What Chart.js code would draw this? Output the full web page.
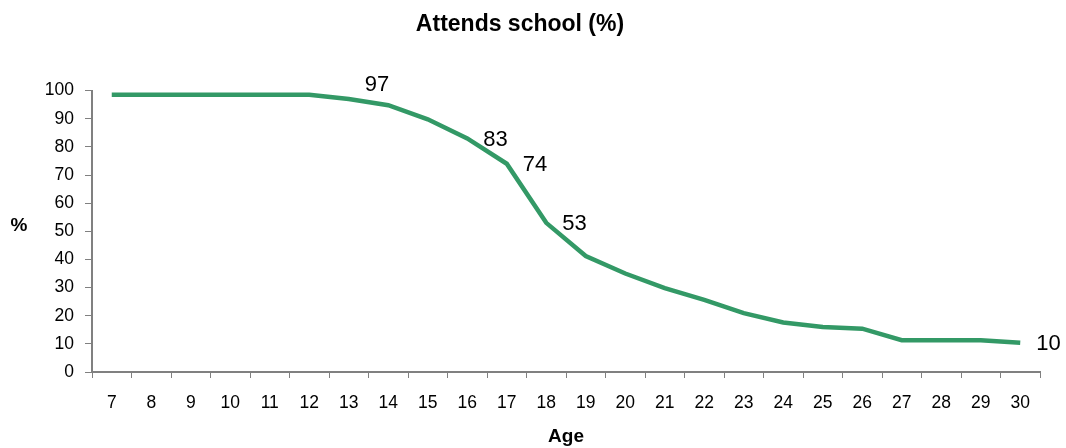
<!DOCTYPE html>
<html>
<head>
<meta charset="utf-8">
<script src="https://cdn.jsdelivr.net/npm/chart.js@4.4.1/dist/chart.umd.min.js"></script>
<style>
  html, body { margin: 0; padding: 0; background: #fff; }
  #wrap { width: 1066px; height: 448px; }
</style>
</head>
<body>
<div id="wrap"><canvas id="schoolChart" width="1066" height="448"></canvas></div>
<script>
const ages = ["7", "8", "9", "10", "11", "12", "13", "14", "15", "16", "17", "18",
  "19", "20", "21", "22", "23", "24", "25", "26", "27", "28", "29", "30"];
const attends = [98.5, 98.5, 98.5, 98.5, 98.5, 98.5, 97, 94.8, 89.8, 83, 74, 53,
  41.2, 35, 29.8, 25.6, 20.9, 17.6, 16, 15.4, 11.3, 11.3, 11.3, 10.4];
// which points carry a value label (index -> text)
const labelled = { 6: "97", 9: "83", 10: "74", 11: "53", 23: "10" };

const FONT = "'Liberation Sans', Arial, sans-serif";

const pointLabels = {
  id: "pointLabels",
  afterDatasetsDraw(chart) {
    const ctx = chart.ctx;
    const meta = chart.getDatasetMeta(0);
    ctx.save();
    ctx.font = `22px ${FONT}`;
    ctx.fillStyle = "#000";
    ctx.textAlign = "left";
    ctx.textBaseline = "middle";
    Object.keys(labelled).forEach((i) => {
      const pt = meta.data[i];
      const lift = i === "6" ? 15 : 0;
      ctx.fillText(labelled[i], pt.x + 16, pt.y - lift + 1);
    });
    ctx.restore();
  },
};

const percentTitle = {
  id: "percentTitle",
  afterDraw(chart) {
    const { ctx, chartArea } = chart;
    ctx.save();
    ctx.font = `bold 19px ${FONT}`;
    ctx.fillStyle = "#000";
    ctx.textAlign = "center";
    ctx.textBaseline = "middle";
    ctx.fillText("%", 19, (chartArea.top + chartArea.bottom) / 2 - 6);
    ctx.restore();
  },
};

const ctx = document.getElementById("schoolChart").getContext("2d");
new Chart(ctx, {
  type: "line",
  data: {
    labels: ages,
    datasets: [
      {
        label: "Attends school (%)",
        data: attends,
        borderColor: "#339966",
        borderWidth: 4.5,
        pointRadius: 0,
        tension: 0,
        fill: false,
      },
    ],
  },
  options: {
    responsive: false,
    animation: false,
    layout: { padding: { left: 0, right: 26, top: 0, bottom: 0 } },
    plugins: {
      legend: { display: false },
      tooltip: { enabled: false },
      title: {
        display: true,
        text: "Attends school (%)",
        color: "#000",
        font: { family: FONT, size: 23, weight: "bold" },
        padding: { top: 11, bottom: 52 },
      },
    },
    scales: {
      x: {
        offset: true,
        grid: {
          offset: true,
          drawOnChartArea: false,
          drawTicks: true,
          tickLength: 6,
          color: "#808080",
        },
        border: { color: "#808080", width: 2 },
        ticks: {
          color: "#000",
          font: { family: FONT, size: 17.5 },
          padding: 15,
          maxRotation: 0,
          autoSkip: false,
        },
        title: {
          display: true,
          text: "Age",
          color: "#000",
          font: { family: FONT, size: 19, weight: "bold" },
          padding: { top: 0, bottom: 0 },
        },
        afterFit(scale) {
          scale.height = 76;
        },
      },
      y: {
        min: 0,
        max: 100,
        grid: {
          drawOnChartArea: false,
          drawTicks: true,
          tickLength: 7,
          color: "#808080",
        },
        border: { color: "#808080", width: 2 },
        ticks: {
          stepSize: 10,
          color: "#000",
          font: { family: FONT, size: 17.5 },
          padding: 11,
        },
        afterFit(scale) {
          scale.width = 92;
        },
      },
    },
  },
  plugins: [pointLabels, percentTitle],
});
</script>
</body>
</html>
